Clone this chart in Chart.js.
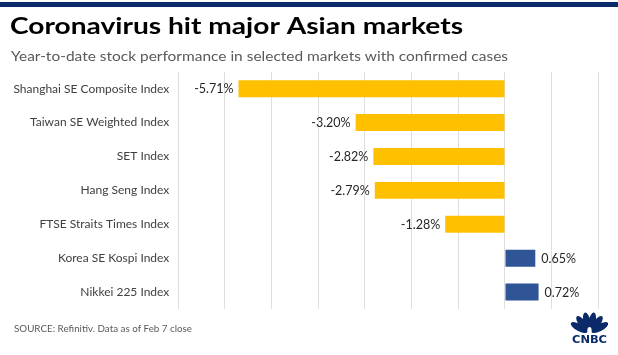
<!DOCTYPE html>
<html>
<head>
<meta charset="utf-8">
<script src="https://cdn.jsdelivr.net/npm/chart.js@4.4.1/dist/chart.umd.min.js"></script>
<style>
html,body{margin:0;padding:0;background:#fff;}
#wrap{position:relative;width:618px;height:355px;}
canvas{display:block;}
</style>
</head>
<body>
<div id="wrap"><canvas id="c" width="618" height="355"></canvas></div>
<script>
const categories = [
  "Shanghai SE Composite Index",
  "Taiwan SE Weighted Index",
  "SET Index",
  "Hang Seng Index",
  "FTSE Straits Times Index",
  "Korea SE Kospi Index",
  "Nikkei 225 Index"
];
const values = [-5.71, -3.20, -2.82, -2.79, -1.28, 0.65, 0.72];
const titleText = "Coronavirus hit major Asian markets";
const subtitleText = "Year-to-date stock performance in selected markets with confirmed cases";
const sourceText = "SOURCE: Refinitiv. Data as of Feb 7 close";

const NEG = '#FFC000', POS = '#2F5597', NAVY = '#0b2a6a';
const FONT = 'Lato, "Open Sans", "Liberation Sans", sans-serif';

function fitText(ctx, text, x, y, font, color, targetW) {
  ctx.save();
  ctx.font = font;
  ctx.fillStyle = color;
  ctx.textBaseline = 'alphabetic';
  ctx.textAlign = 'left';
  const w = ctx.measureText(text).width;
  const s = targetW ? targetW / w : 1;
  ctx.translate(x, y);
  ctx.scale(s, 1);
  ctx.fillText(text, 0, 0);
  ctx.restore();
}

function drawLogo(ctx) {
  ctx.save();
  const cx = 589.5, cy = 333;
  ctx.fillStyle = NAVY;
  const angles = [-62, -37, -12.5, 12.5, 37, 62];
  angles.forEach(d => {
    ctx.save();
    ctx.translate(cx, cy);
    ctx.rotate(d * Math.PI / 180);
    ctx.beginPath();
    ctx.ellipse(0, -11.5, 3.6, 9.5, 0, 0, Math.PI * 2);
    ctx.fill();
    ctx.restore();
  });
  ctx.fillStyle = '#fff';
  ctx.beginPath();
  ctx.ellipse(cx, cy - 2, 2.2, 4, 0, 0, Math.PI * 2);
  ctx.fill();
  ctx.fillStyle = NAVY;
  ctx.font = 'bold 10px "DejaVu Sans", sans-serif';
  const w = ctx.measureText('CNBC').width;
  ctx.save();
  ctx.translate(572, 343);
  ctx.scale(35 / w, 1);
  ctx.fillText('CNBC', 0, 0);
  ctx.restore();
  ctx.restore();
}

const decor = {
  id: 'decor',
  beforeDraw(chart) {
    const ctx = chart.ctx;
    ctx.save();
    ctx.fillStyle = '#fff';
    ctx.fillRect(0, 0, chart.width, chart.height);
    ctx.fillStyle = NAVY;
    ctx.fillRect(0, 2, chart.width, 5);
    ctx.restore();
    fitText(ctx, titleText, 10, 34, 'bold 22px ' + FONT, '#000', 453);
    fitText(ctx, subtitleText, 11, 60.7, '14px ' + FONT, '#595959', 497);
    fitText(ctx, sourceText, 14, 331.7, '9.5px ' + FONT, '#595959', 178);
    drawLogo(ctx);
  },
  afterDatasetsDraw(chart) {
    const ctx = chart.ctx;
    const meta = chart.getDatasetMeta(0);
    ctx.save();
    ctx.font = '12.5px ' + FONT;
    ctx.fillStyle = '#262626';
    ctx.textBaseline = 'middle';
    meta.data.forEach((bar, i) => {
      const v = values[i];
      const label = v.toFixed(2) + '%';
      if (v < 0) {
        ctx.textAlign = 'right';
        ctx.fillText(label, bar.x - 5, bar.y + 0.5);
      } else {
        ctx.textAlign = 'left';
        ctx.fillText(label, bar.x + 6, bar.y + 0.5);
      }
    });
    ctx.restore();
  }
};

new Chart(document.getElementById('c'), {
  type: 'bar',
  data: {
    labels: categories,
    datasets: [{
      data: values,
      backgroundColor: values.map(v => v < 0 ? NEG : POS),
      borderWidth: 0,
      barPercentage: 0.5,
      categoryPercentage: 1
    }]
  },
  options: {
    indexAxis: 'y',
    responsive: false,
    animation: false,
    devicePixelRatio: 1,
    layout: { padding: { left: 0, right: 19.7, top: 71.7, bottom: 46 } },
    plugins: { legend: { display: false }, tooltip: { enabled: false } },
    scales: {
      x: {
        min: -7, max: 2,
        ticks: { display: false, stepSize: 1 },
        grid: { color: '#dedede', lineWidth: 1, drawTicks: false },
        border: { display: false }
      },
      y: {
        grid: { display: false, drawTicks: false },
        border: { display: false },
        ticks: { color: '#404040', padding: 9, font: { family: FONT, size: 12 } },
        afterFit(s) { s.width = 178.3; }
      }
    }
  },
  plugins: [decor]
});
</script>
</body>
</html>
